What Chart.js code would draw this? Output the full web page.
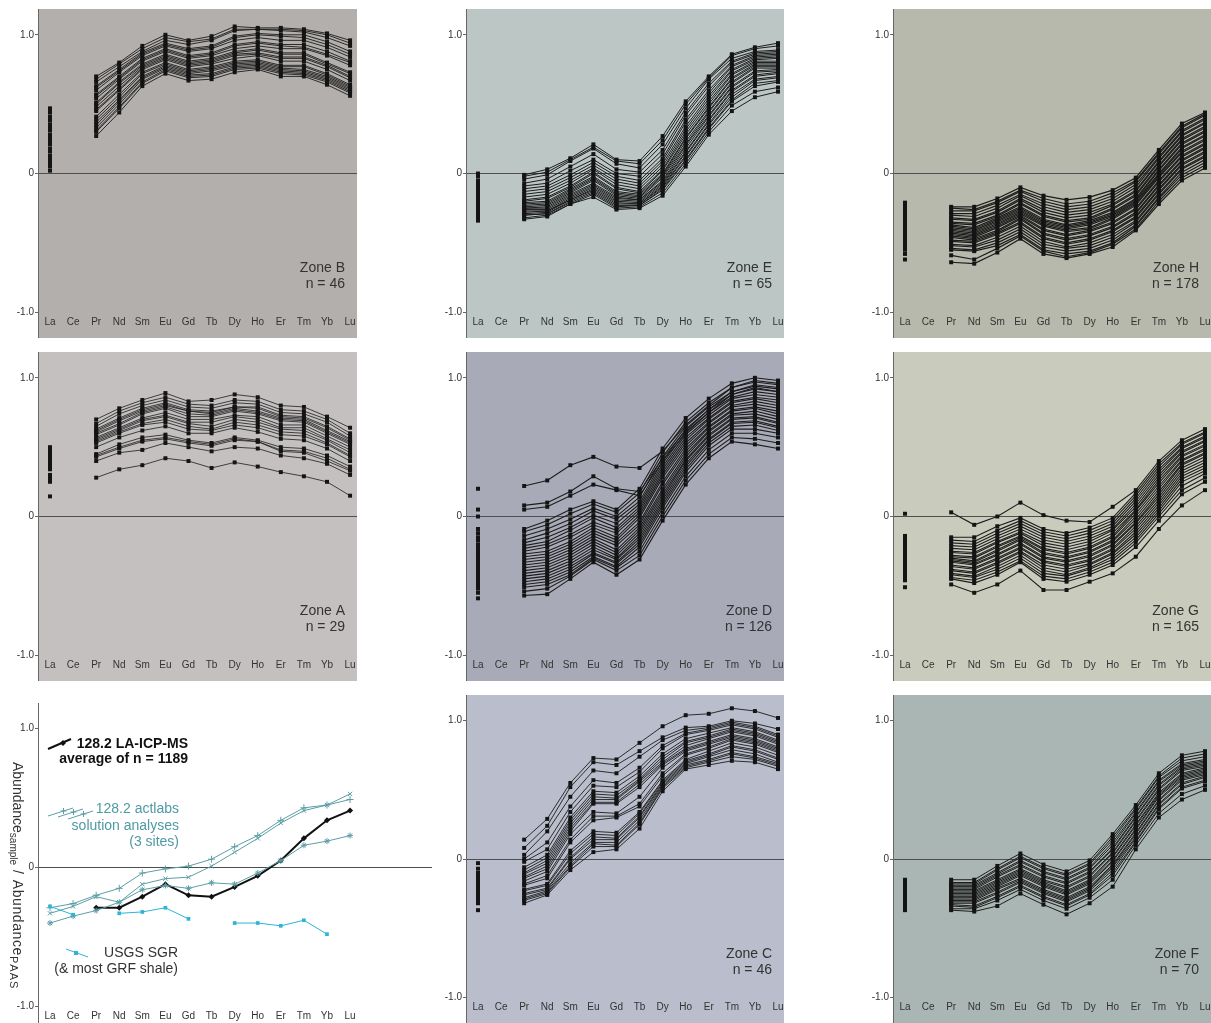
<!DOCTYPE html>
<html><head><meta charset="utf-8">
<script src="https://cdn.jsdelivr.net/npm/chart.js@4.4.1/dist/chart.umd.min.js"></script>
<style>
html,body{margin:0;padding:0;background:#fff;width:1211px;height:1023px;overflow:hidden;position:relative;}
canvas{position:absolute;}
</style></head><body>
<script>
const categories = ['La','Ce','Pr','Nd','Sm','Eu','Gd','Tb','Dy','Ho','Er','Tm','Yb','Lu'];
const yTickValues = [-1, 0, 1];
const yTickLabels = ['-1.0', '0', '1.0'];
const _ = null;

const zoneB = [
[.47,_,.70,.80,.92,1.00,.96,.99,1.06,1.05,1.05,1.04,1.01,.96],
[.45,_,.68,.79,.90,.98,.95,.97,1.04,1.04,1.04,1.03,1.00,.94],
[.44,_,.66,.77,.88,.96,.93,.96,1.03,1.04,1.03,1.02,.98,.92],
[.41,_,.63,.75,.87,.94,.90,.92,.99,1.01,1.00,1.00,.95,.88],
[.40,_,.62,.74,.86,.93,.89,.91,.98,1.00,.99,.98,.93,.86],
[.38,_,.60,.73,.85,.92,.88,.90,.96,.98,.96,.96,.91,.84],
[.35,_,.57,.70,.83,.90,.85,.87,.93,.95,.93,.93,.88,.81],
[.33,_,.56,.69,.82,.89,.84,.86,.92,.94,.92,.91,.86,.80],
[.31,_,.54,.68,.81,.88,.83,.85,.90,.92,.90,.90,.85,.78],
[.28,_,.51,.66,.79,.86,.81,.83,.88,.90,.87,.87,.80,.73],
[.27,_,.50,.65,.78,.85,.80,.82,.87,.89,.86,.86,.79,.72],
[.25,_,.48,.63,.77,.84,.79,.81,.86,.87,.84,.84,.78,.70],
[.23,_,.46,.61,.76,.83,.78,.80,.85,.86,.83,.83,.77,.69],
[.21,_,.45,.60,.75,.82,.77,.79,.83,.85,.81,.81,.75,.67],
[.18,_,.41,.57,.73,.80,.75,.77,.81,.82,.78,.78,.72,.64],
[.16,_,.39,.55,.72,.79,.74,.76,.80,.81,.77,.77,.71,.63],
[.13,_,.37,.53,.70,.78,.73,.75,.79,.80,.76,.75,.70,.62],
[.11,_,.35,.52,.69,.77,.72,.74,.78,.79,.75,.74,.69,.61],
[.09,_,.33,.50,.68,.76,.71,.72,.77,.78,.74,.73,.68,.60],
[.07,_,.31,.48,.66,.75,.70,.71,.76,.77,.73,.72,.67,.59],
[.05,_,.30,.47,.65,.74,.69,.70,.75,.76,.72,.71,.66,.58],
[.02,_,.27,.44,.63,.72,.67,.68,.73,.75,.70,.70,.64,.56]
];
const zoneE = [
[.00,_,-.01,.03,.11,.21,.10,.09,.27,.52,.70,.86,.91,.94],
[-.02,_,-.02,.01,.10,.19,.09,.07,.24,.50,.69,.85,.90,.92],
[-.05,_,-.04,-.01,.09,.18,.07,.04,.21,.47,.68,.83,.88,.89],
[-.07,_,-.07,-.04,.05,.14,.03,.01,.17,.44,.65,.81,.87,.88],
[-.09,_,-.09,-.07,.02,.10,.00,-.02,.14,.42,.63,.80,.86,.87],
[-.11,_,-.11,-.09,-.01,.08,-.02,-.05,.11,.39,.60,.78,.85,.86],
[-.12,_,-.13,-.11,-.03,.06,-.04,-.07,.09,.37,.58,.77,.84,.85],
[-.14,_,-.15,-.13,-.05,.04,-.06,-.09,.07,.34,.56,.75,.83,.84],
[-.15,_,-.17,-.15,-.07,.03,-.08,-.11,.05,.32,.54,.74,.82,.83],
[-.17,_,-.19,-.17,-.09,.01,-.10,-.13,.03,.30,.52,.72,.81,.81],
[-.18,_,-.20,-.18,-.10,.00,-.11,-.14,.02,.28,.50,.71,.80,.80],
[-.19,_,-.21,-.20,-.11,-.02,-.13,-.15,.00,.26,.48,.69,.79,.79],
[-.20,_,-.22,-.21,-.12,-.03,-.14,-.16,-.01,.25,.47,.68,.78,.78],
[-.21,_,-.23,-.22,-.13,-.04,-.15,-.17,-.02,.23,.45,.66,.77,.77],
[-.22,_,-.24,-.23,-.14,-.05,-.16,-.18,-.03,.21,.44,.65,.76,.76],
[-.23,_,-.25,-.24,-.15,-.07,-.17,-.19,-.05,.20,.42,.63,.74,.75],
[-.24,_,-.25,-.25,-.16,-.08,-.18,-.19,-.06,.18,.41,.62,.73,.74],
[-.25,_,-.26,-.26,-.17,-.09,-.19,-.20,-.07,.16,.39,.60,.71,.73],
[-.26,_,-.27,-.27,-.18,-.10,-.20,-.21,-.08,.15,.38,.59,.70,.72],
[-.27,_,-.28,-.27,-.19,-.11,-.21,-.22,-.09,.13,.36,.57,.68,.70],
[-.28,_,-.29,-.28,-.19,-.12,-.22,-.22,-.10,.12,.35,.55,.67,.69],
[-.29,_,-.30,-.29,-.20,-.13,-.23,-.23,-.11,.10,.33,.53,.65,.67],
[-.30,_,-.30,-.29,-.21,-.14,-.24,-.23,-.12,.09,.32,.52,.63,.66],
[-.32,_,-.32,-.30,-.22,-.15,-.25,-.24,-.14,.07,.30,.49,.59,.62],
[-.34,_,-.33,-.31,-.22,-.17,-.26,-.25,-.16,.05,.28,.45,.55,.59]
];
const zoneH = [
[-.21,_,-.24,-.24,-.18,-.10,-.16,-.19,-.17,-.12,-.03,.17,.36,.44],
[-.23,_,-.25,-.26,-.20,-.12,-.18,-.22,-.20,-.14,-.05,.15,.34,.43],
[-.25,_,-.27,-.27,-.21,-.13,-.20,-.24,-.22,-.16,-.06,.14,.33,.42],
[-.27,_,-.29,-.29,-.23,-.15,-.22,-.26,-.24,-.18,-.08,.12,.31,.40],
[-.28,_,-.30,-.31,-.25,-.16,-.24,-.28,-.26,-.20,-.10,.11,.30,.39],
[-.30,_,-.32,-.33,-.27,-.18,-.26,-.30,-.28,-.22,-.12,.09,.28,.37],
[-.31,_,-.33,-.34,-.28,-.19,-.28,-.32,-.30,-.23,-.13,.08,.27,.36],
[-.33,_,-.35,-.36,-.30,-.21,-.30,-.34,-.32,-.25,-.15,.06,.25,.34],
[-.34,_,-.36,-.37,-.31,-.22,-.31,-.35,-.33,-.26,-.16,.05,.24,.33],
[-.36,_,-.37,-.39,-.32,-.24,-.33,-.37,-.34,-.28,-.18,.03,.22,.31],
[-.37,_,-.38,-.40,-.33,-.25,-.34,-.38,-.35,-.29,-.19,.02,.21,.30],
[-.38,_,-.39,-.41,-.34,-.26,-.35,-.39,-.36,-.30,-.20,.00,.19,.28],
[-.39,_,-.40,-.42,-.35,-.27,-.36,-.40,-.37,-.31,-.21,-.01,.18,.27],
[-.40,_,-.41,-.43,-.36,-.28,-.37,-.41,-.39,-.32,-.22,-.02,.16,.25],
[-.41,_,-.42,-.44,-.37,-.29,-.38,-.42,-.40,-.33,-.23,-.03,.15,.24],
[-.42,_,-.43,-.45,-.38,-.30,-.40,-.44,-.41,-.35,-.25,-.05,.13,.22],
[-.43,_,-.44,-.46,-.39,-.31,-.41,-.45,-.42,-.36,-.26,-.06,.12,.21],
[-.44,_,-.45,-.47,-.41,-.32,-.43,-.47,-.44,-.38,-.28,-.08,.10,.19],
[-.45,_,-.46,-.48,-.42,-.33,-.44,-.48,-.45,-.39,-.29,-.09,.09,.18],
[-.47,_,-.48,-.49,-.43,-.35,-.46,-.50,-.47,-.41,-.31,-.11,.07,.16],
[-.48,_,-.49,-.50,-.44,-.36,-.47,-.51,-.48,-.42,-.32,-.12,.06,.15],
[-.50,_,-.51,-.52,-.46,-.38,-.49,-.53,-.50,-.44,-.34,-.14,.04,.13],
[-.51,_,-.52,-.53,-.48,-.40,-.51,-.54,-.52,-.46,-.35,-.15,.03,.12],
[-.53,_,-.54,-.55,-.50,-.42,-.53,-.56,-.54,-.48,-.37,-.17,.01,.10],
[-.55,_,-.55,-.56,-.52,-.44,-.55,-.58,-.56,-.50,-.38,-.18,-.01,.08],
[-.58,_,-.59,-.62,-.54,-.45,-.56,-.60,-.57,-.51,-.40,-.20,-.03,.06],
[-.62,_,-.64,-.65,-.57,-.47,-.58,-.61,-.58,-.53,-.41,-.22,-.05,.04]
];
const zoneA = [
[.50,_,.70,.78,.84,.89,.83,.84,.88,.86,.80,.79,.72,.64],
[.48,_,.67,.76,.82,.86,.81,.80,.84,.83,.77,.76,.70,.60],
[.47,_,.65,.74,.80,.84,.79,.78,.82,.81,.75,.74,.68,.58],
[.45,_,.63,.71,.78,.82,.77,.76,.79,.79,.73,.72,.65,.56],
[.44,_,.62,.70,.77,.81,.76,.75,.79,.78,.72,.71,.64,.55],
[.43,_,.61,.69,.76,.80,.76,.74,.78,.76,.71,.70,.62,.54],
[.42,_,.60,.67,.75,.79,.74,.73,.77,.75,.70,.69,.61,.53],
[.41,_,.59,.66,.74,.78,.72,.72,.76,.74,.69,.68,.60,.52],
[.40,_,.57,.64,.71,.75,.70,.70,.73,.72,.66,.66,.58,.50],
[.39,_,.56,.63,.70,.73,.68,.68,.72,.70,.64,.64,.56,.48],
[.38,_,.55,.62,.69,.72,.67,.65,.70,.68,.63,.62,.55,.46],
[.37,_,.54,.61,.67,.70,.65,.63,.68,.66,.61,.60,.53,.44],
[.36,_,.53,.60,.66,.68,.63,.62,.66,.64,.59,.58,.52,.43],
[.34,_,.50,.57,.62,.65,.60,.60,.64,.61,.56,.55,.49,.40],
[.30,_,.45,.52,.57,.59,.55,.53,.57,.55,.50,.49,.44,.36],
[.28,_,.44,.50,.55,.57,.54,.52,.56,.54,.48,.47,.42,.34],
[.27,_,.43,.49,.54,.56,.53,.51,.55,.54,.47,.46,.40,.33],
[.25,_,.40,.46,.48,.53,.50,.47,.50,.49,.44,.42,.38,.30],
[.145,_,.28,.34,.37,.42,.40,.35,.39,.36,.32,.29,.25,.15]
];
const zoneD = [
[.20,_,.22,.26,.37,.43,.36,.35,.47,.66,.80,.93,.98,.96],
[.05,_,.08,.10,.18,.29,.20,.18,.42,.62,.77,.90,.95,.93],
[.00,_,.05,.07,.15,.23,.19,.15,.40,.60,.75,.88,.93,.90],
[-.09,_,-.09,-.03,.05,.11,.05,.20,.49,.71,.85,.96,1.00,.98],
[-.12,_,-.11,-.06,.02,.09,.03,.17,.46,.68,.82,.93,.97,.95],
[-.15,_,-.14,-.09,-.02,.06,.00,.14,.43,.65,.79,.90,.94,.92],
[-.17,_,-.17,-.12,-.05,.04,-.02,.11,.40,.63,.77,.88,.92,.90],
[-.20,_,-.19,-.15,-.08,.01,-.05,.09,.38,.61,.75,.86,.90,.88],
[-.22,_,-.21,-.18,-.10,-.01,-.08,.07,.36,.59,.73,.85,.88,.86],
[-.24,_,-.23,-.20,-.13,-.04,-.10,.05,.34,.57,.71,.83,.86,.84],
[-.26,_,-.25,-.22,-.15,-.06,-.12,.03,.32,.55,.70,.82,.85,.82],
[-.28,_,-.27,-.25,-.18,-.08,-.15,.01,.30,.53,.68,.80,.83,.80],
[-.30,_,-.29,-.27,-.20,-.10,-.17,-.01,.28,.51,.67,.79,.81,.78],
[-.32,_,-.31,-.29,-.22,-.12,-.19,-.04,.25,.49,.65,.77,.79,.76],
[-.34,_,-.33,-.31,-.24,-.14,-.21,-.06,.23,.47,.64,.76,.78,.74],
[-.36,_,-.35,-.33,-.26,-.16,-.24,-.08,.20,.45,.62,.74,.76,.72],
[-.38,_,-.37,-.35,-.28,-.18,-.26,-.10,.18,.43,.61,.73,.74,.70],
[-.40,_,-.39,-.37,-.30,-.20,-.28,-.12,.16,.41,.59,.71,.72,.68],
[-.42,_,-.41,-.39,-.32,-.22,-.30,-.14,.14,.40,.58,.70,.71,.67],
[-.44,_,-.43,-.41,-.34,-.24,-.31,-.16,.12,.38,.56,.68,.69,.65],
[-.46,_,-.45,-.43,-.36,-.26,-.33,-.18,.10,.36,.55,.67,.68,.64],
[-.48,_,-.47,-.45,-.38,-.27,-.34,-.20,.08,.34,.53,.65,.66,.62],
[-.50,_,-.49,-.47,-.40,-.29,-.36,-.22,.06,.32,.51,.63,.63,.60],
[-.52,_,-.51,-.49,-.42,-.30,-.37,-.25,.03,.29,.48,.60,.60,.57],
[-.55,_,-.54,-.52,-.43,-.31,-.39,-.28,.00,.26,.45,.57,.56,.53],
[-.59,_,-.57,-.56,-.45,-.33,-.42,-.31,-.03,.23,.42,.54,.52,.49]
];
const zoneG = [
[.02,_,.03,-.06,.00,.10,.01,-.03,-.04,.07,.19,.40,.55,.63],
[-.14,_,-.15,-.15,-.07,-.01,-.09,-.12,-.08,-.01,.17,.38,.53,.61],
[-.16,_,-.17,-.18,-.10,-.03,-.11,-.14,-.10,-.03,.15,.36,.52,.60],
[-.18,_,-.19,-.20,-.12,-.05,-.13,-.16,-.12,-.05,.13,.34,.50,.58],
[-.20,_,-.21,-.22,-.14,-.07,-.15,-.18,-.14,-.07,.11,.32,.49,.57],
[-.22,_,-.23,-.24,-.16,-.09,-.17,-.20,-.16,-.09,.09,.30,.47,.55],
[-.24,_,-.25,-.26,-.18,-.11,-.19,-.22,-.18,-.10,.07,.28,.46,.54],
[-.25,_,-.26,-.27,-.19,-.12,-.21,-.24,-.20,-.12,.05,.26,.44,.52],
[-.27,_,-.28,-.29,-.21,-.14,-.23,-.26,-.22,-.14,.04,.24,.43,.51],
[-.28,_,-.29,-.30,-.22,-.15,-.24,-.27,-.23,-.15,.02,.22,.41,.49],
[-.30,_,-.30,-.32,-.24,-.16,-.26,-.29,-.25,-.17,.00,.20,.40,.48],
[-.31,_,-.31,-.33,-.25,-.17,-.27,-.30,-.26,-.18,-.02,.18,.38,.46],
[-.33,_,-.32,-.34,-.27,-.19,-.29,-.32,-.28,-.20,-.04,.16,.37,.45],
[-.34,_,-.33,-.35,-.28,-.20,-.30,-.33,-.29,-.21,-.05,.14,.35,.43],
[-.36,_,-.35,-.37,-.30,-.22,-.32,-.35,-.31,-.23,-.07,.12,.33,.41],
[-.37,_,-.36,-.38,-.31,-.23,-.33,-.36,-.32,-.24,-.09,.10,.31,.39],
[-.39,_,-.38,-.40,-.33,-.25,-.35,-.38,-.34,-.26,-.11,.08,.29,.37],
[-.40,_,-.39,-.41,-.34,-.26,-.37,-.40,-.35,-.27,-.13,.06,.27,.35],
[-.42,_,-.41,-.43,-.36,-.28,-.39,-.42,-.37,-.29,-.15,.04,.25,.33],
[-.43,_,-.42,-.44,-.38,-.30,-.41,-.43,-.38,-.31,-.17,.02,.22,.31],
[-.45,_,-.44,-.46,-.40,-.32,-.43,-.45,-.40,-.33,-.19,.00,.19,.28],
[-.46,_,-.45,-.48,-.42,-.33,-.45,-.47,-.42,-.35,-.22,-.03,.16,.25],
[-.51,_,-.49,-.55,-.49,-.39,-.53,-.53,-.47,-.41,-.29,-.09,.08,.19]
];
const zoneC = [
[-.03,_,.14,.29,.55,.73,.72,.84,.96,1.04,1.05,1.09,1.07,1.02],
[-.07,_,.08,.24,.52,.70,.68,.78,.88,.95,.96,1.00,.98,.94],
[-.10,_,.03,.20,.45,.64,.62,.74,.86,.93,.95,.99,.96,.90],
[-.11,_,.00,.12,.38,.57,.55,.66,.82,.91,.94,.98,.95,.89],
[-.12,_,-.02,.07,.34,.53,.52,.63,.80,.90,.93,.97,.94,.88],
[-.14,_,-.06,.03,.30,.49,.48,.60,.76,.87,.91,.95,.92,.86],
[-.15,_,-.08,.01,.28,.47,.46,.58,.74,.85,.89,.94,.91,.85],
[-.16,_,-.10,-.01,.26,.45,.44,.57,.72,.84,.88,.93,.90,.84],
[-.17,_,-.11,-.03,.24,.43,.43,.56,.70,.82,.87,.92,.89,.83],
[-.18,_,-.13,-.05,.22,.41,.41,.54,.69,.80,.85,.90,.87,.81],
[-.19,_,-.14,-.07,.20,.40,.40,.52,.68,.79,.84,.89,.86,.80],
[-.20,_,-.16,-.09,.18,.34,.33,.45,.66,.78,.83,.88,.85,.79],
[-.21,_,-.18,-.12,.14,.31,.31,.40,.62,.76,.81,.87,.84,.78],
[-.22,_,-.19,-.14,.12,.28,.30,.38,.60,.75,.80,.86,.83,.77],
[-.24,_,-.22,-.18,.06,.20,.19,.34,.57,.72,.78,.84,.81,.75],
[-.25,_,-.23,-.19,.04,.18,.17,.33,.56,.71,.76,.82,.79,.73],
[-.26,_,-.25,-.21,.01,.16,.15,.31,.55,.70,.75,.81,.78,.72],
[-.27,_,-.26,-.22,.00,.14,.14,.30,.54,.69,.74,.79,.76,.70],
[-.29,_,-.28,-.23,-.03,.12,.12,.28,.53,.68,.72,.77,.74,.69],
[-.30,_,-.29,-.24,-.05,.11,.10,.26,.52,.67,.71,.76,.73,.68],
[-.32,_,-.30,-.25,-.06,.09,.09,.25,.51,.66,.70,.74,.72,.67],
[-.37,_,-.32,-.26,-.08,.05,.07,.22,.49,.65,.68,.71,.70,.65]
];
const zoneF = [
[-.15,_,-.15,-.15,-.05,.04,-.04,-.09,-.01,.18,.39,.62,.75,.78],
[-.17,_,-.17,-.17,-.07,.02,-.06,-.11,-.03,.16,.37,.60,.73,.76],
[-.18,_,-.18,-.18,-.08,.01,-.07,-.12,-.04,.14,.36,.59,.71,.74],
[-.19,_,-.19,-.19,-.10,-.01,-.09,-.14,-.06,.12,.34,.57,.69,.72],
[-.20,_,-.20,-.20,-.11,-.02,-.10,-.15,-.07,.10,.33,.56,.68,.71],
[-.21,_,-.21,-.21,-.12,-.04,-.12,-.17,-.09,.08,.31,.54,.67,.70],
[-.22,_,-.22,-.22,-.13,-.05,-.13,-.18,-.10,.07,.30,.53,.66,.69],
[-.23,_,-.23,-.23,-.15,-.07,-.15,-.20,-.12,.05,.28,.51,.65,.68],
[-.24,_,-.24,-.24,-.16,-.08,-.16,-.21,-.13,.04,.27,.50,.64,.67],
[-.25,_,-.25,-.25,-.17,-.09,-.17,-.23,-.15,.02,.25,.48,.62,.66],
[-.26,_,-.26,-.26,-.18,-.10,-.18,-.24,-.16,.01,.24,.47,.61,.65],
[-.27,_,-.27,-.27,-.19,-.11,-.19,-.25,-.17,-.01,.22,.46,.60,.64],
[-.28,_,-.28,-.28,-.20,-.12,-.20,-.26,-.18,-.02,.21,.45,.59,.63],
[-.29,_,-.29,-.29,-.21,-.14,-.22,-.28,-.20,-.04,.19,.43,.58,.62],
[-.30,_,-.30,-.30,-.22,-.15,-.23,-.29,-.21,-.05,.18,.42,.57,.61],
[-.31,_,-.31,-.31,-.24,-.16,-.24,-.30,-.22,-.06,.16,.40,.55,.60],
[-.32,_,-.32,-.32,-.25,-.17,-.25,-.31,-.23,-.08,.15,.39,.54,.59],
[-.33,_,-.33,-.34,-.27,-.19,-.27,-.33,-.25,-.10,.13,.37,.52,.57],
[-.34,_,-.34,-.35,-.28,-.20,-.28,-.34,-.26,-.12,.12,.36,.51,.56],
[-.35,_,-.36,-.36,-.30,-.22,-.30,-.36,-.28,-.15,.10,.33,.47,.53],
[-.37,_,-.37,-.38,-.34,-.25,-.33,-.40,-.32,-.20,.07,.30,.43,.50]
];

const avgLaIcpMs   = [_,_,-.29,-.29,-.21,-.12,-.20,-.21,-.14,-.06,.05,.21,.34,.41];
const actlabsSite1 = [-.29,-.26,-.20,-.15,-.04,-.01,.01,.06,.15,.23,.34,.43,.45,.49];
const actlabsSite2 = [-.33,-.28,-.21,-.25,-.12,-.08,-.07,.01,.11,.21,.32,.41,.45,.53];
const actlabsSite3 = [-.40,-.35,-.31,-.25,-.16,-.13,-.15,-.11,-.12,-.04,.05,.16,.19,.23];
const usgsSGR      = [-.28,-.34,_,-.33,-.32,-.29,-.37,_,-.40,-.40,-.42,-.38,-.48,_];

const FONT = '"Liberation Sans", Arial, Helvetica, sans-serif';
const TEAL = '#5c9ea6', TEAL_TXT = '#4f9aa3', CYAN = '#2db4d6';

function makeCanvas(left, top, w, h) {
  const c = document.createElement('canvas');
  c.width = w; c.height = h;
  c.style.left = left + 'px'; c.style.top = top + 'px';
  c.style.width = w + 'px'; c.style.height = h + 'px';
  document.body.appendChild(c);
  return c;
}

const bgPlugin = {
  id: 'bg',
  beforeDraw(chart, args, opts) {
    if (!opts.color) return;
    const a = chart.chartArea, ctx = chart.ctx;
    ctx.save(); ctx.fillStyle = opts.color;
    ctx.fillRect(a.left, a.top, a.right - a.left, a.bottom - a.top);
    ctx.restore();
  }
};
const zoneLabelPlugin = {
  id: 'zoneLabel',
  afterDraw(chart, args, opts) {
    if (!opts.zone) return;
    const ctx = chart.ctx, a = chart.chartArea;
    const y0 = chart.scales.y.getPixelForValue(0);
    ctx.save();
    ctx.fillStyle = '#333'; ctx.font = '14px ' + FONT;
    ctx.textAlign = 'right'; ctx.textBaseline = 'middle';
    ctx.fillText(opts.zone, a.right - 12, y0 + 95);
    ctx.fillText(opts.n, a.right - 12, y0 + 111);
    ctx.restore();
  }
};

function scalesFor(yMin, yMax, xMax) {
  return {
    x: {
      type: 'linear', min: -0.52, max: xMax, position: { y: -1 },
      grid: { display: false, drawTicks: false }, border: { display: false },
      ticks: { autoSkip: false, maxRotation: 0, minRotation: 0, padding: 4, color: '#333',
               font: { family: FONT, size: 10 }, callback: (v, i) => categories[i] },
      afterBuildTicks: s => { s.ticks = categories.map((c, i) => ({ value: i })); },
      afterFit: s => { s.paddingLeft = 0; s.paddingRight = 0; }
    },
    y: {
      type: 'linear', min: yMin, max: yMax, position: 'left',
      grid: { color: c => (c.tick && c.tick.value === 0) ? '#4e4e4e' : 'rgba(0,0,0,0)',
              tickColor: '#666', tickLength: 3, drawOnChartArea: true, lineWidth: 1 },
      border: { display: true, color: '#666', width: 1 },
      ticks: { padding: 1, color: '#333', font: { family: FONT, size: 10 },
               callback: (v, i) => yTickLabels[i] },
      afterBuildTicks: s => { s.ticks = yTickValues.map(v => ({ value: v })); },
      afterFit: s => { s.width = 38; s.paddingTop = 0; s.paddingBottom = 0; }
    }
  };
}

const panels = [
  { zone: 'Zone B', n: 'n = 46',  data: zoneB, bg: '#b3afac', left: 0,   top: 9,   w: 357, h: 329, xMax: 13.30, lw: 0.9 },
  { zone: 'Zone E', n: 'n = 65',  data: zoneE, bg: '#bbc6c5', left: 428, top: 9,   w: 356, h: 329, xMax: 13.26, lw: 1.0 },
  { zone: 'Zone H', n: 'n = 178', data: zoneH, bg: '#b6b9ab', left: 855, top: 9,   w: 356, h: 329, xMax: 13.26, lw: 1.2 },
  { zone: 'Zone A', n: 'n = 29',  data: zoneA, bg: '#c4c0c0', left: 0,   top: 352, w: 357, h: 329, xMax: 13.30, lw: 0.8 },
  { zone: 'Zone D', n: 'n = 126', data: zoneD, bg: '#a8aab7', left: 428, top: 352, w: 356, h: 329, xMax: 13.26, lw: 1.1 },
  { zone: 'Zone G', n: 'n = 165', data: zoneG, bg: '#c9ccbc', left: 855, top: 352, w: 356, h: 329, xMax: 13.26, lw: 1.1 },
  { zone: 'Zone C', n: 'n = 46',  data: zoneC, bg: '#b9bdcc', left: 428, top: 695, w: 356, h: 328, xMax: 13.26, lw: 0.9 },
  { zone: 'Zone F', n: 'n = 70',  data: zoneF, bg: '#aab6b3', left: 855, top: 695, w: 356, h: 328, xMax: 13.26, lw: 1.0 }
];

const toXY = row => row.map((v, i) => ({ x: i, y: v }));

panels.forEach(p => {
  const cv = makeCanvas(p.left, p.top, p.w, p.h);
  new Chart(cv, {
    type: 'line',
    data: {
      datasets: p.data.map(row => ({
        data: toXY(row), borderColor: '#1c1c1c', borderWidth: p.lw,
        pointStyle: 'rect', pointRadius: 2.8, pointBackgroundColor: '#141414',
        pointBorderWidth: 0, spanGaps: false, tension: 0
      }))
    },
    options: {
      responsive: false, animation: false, devicePixelRatio: 1,
      layout: { padding: 0, autoPadding: false },
      events: [],
      plugins: { legend: { display: false }, tooltip: { enabled: false },
                 bg: { color: p.bg }, zoneLabel: { zone: p.zone, n: p.n } },
      scales: scalesFor(-1.186, 1.186, p.xMax)
    },
    plugins: [bgPlugin, zoneLabelPlugin]
  });
});

// summary panel (bottom-left)
const summaryPlugin = {
  id: 'summary',
  afterDraw(chart) {
    const ctx = chart.ctx;
    ctx.save();
    ctx.strokeStyle = '#111'; ctx.lineWidth = 2;
    ctx.beginPath(); ctx.moveTo(48, 46); ctx.lineTo(71, 36); ctx.stroke();
    ctx.fillStyle = '#111';
    ctx.beginPath(); ctx.moveTo(63, 37); ctx.lineTo(66, 40); ctx.lineTo(63, 43); ctx.lineTo(60, 40); ctx.closePath(); ctx.fill();
    ctx.font = 'bold 14px ' + FONT; ctx.textAlign = 'right'; ctx.textBaseline = 'middle';
    ctx.fillText('128.2 LA-ICP-MS', 188, 41);
    ctx.fillText('average of n = 1189', 188, 56);
    ctx.strokeStyle = TEAL; ctx.lineWidth = 1;
    [[48,113,73,105],[58,114,83,106],[68,116,93,108]].forEach(s => {
      ctx.beginPath(); ctx.moveTo(s[0], s[1]); ctx.lineTo(s[2], s[3]); ctx.stroke();
      const mx = (s[0] + s[2]) / 2 + 3, my = (s[1] + s[3]) / 2 - 1;
      ctx.beginPath(); ctx.moveTo(mx - 3, my); ctx.lineTo(mx + 3, my); ctx.moveTo(mx, my - 3); ctx.lineTo(mx, my + 3); ctx.stroke();
    });
    ctx.fillStyle = TEAL_TXT; ctx.font = '14px ' + FONT;
    ctx.fillText('128.2 actlabs', 179, 106);
    ctx.fillText('solution analyses', 179, 123);
    ctx.fillText('(3 sites)', 179, 139);
    ctx.strokeStyle = CYAN; ctx.lineWidth = 1;
    ctx.beginPath(); ctx.moveTo(66, 246); ctx.lineTo(88, 254); ctx.stroke();
    ctx.fillStyle = CYAN; ctx.fillRect(74, 248, 4, 4);
    ctx.fillStyle = '#333';
    ctx.fillText('USGS SGR', 178, 250);
    ctx.fillText('(& most GRF shale)', 178, 266);
    // rotated axis title
    ctx.translate(12.5, 59); ctx.rotate(Math.PI / 2);
    ctx.textAlign = 'left'; ctx.textBaseline = 'alphabetic'; ctx.fillStyle = '#333';
    let x = 0;
    const part = (t, size, dy, sp) => {
      ctx.font = size + 'px ' + FONT;
      for (const ch of t) { ctx.fillText(ch, x, dy); x += ctx.measureText(ch).width + (sp || 0); }
    };
    part('Abundance', 14, 0); part('sample', 10, 3); part(' / ', 14, 0, 1); part('Abundance', 14, 0, 0.6); part('PAAS', 11, 3, 1);
    ctx.restore();
  }
};

const sumCanvas = makeCanvas(0, 703, 432, 320);
new Chart(sumCanvas, {
  type: 'line',
  data: {
    datasets: [
      { data: toXY(usgsSGR), borderColor: CYAN, borderWidth: 1, pointStyle: 'rect', pointRadius: 2.6,
        pointBackgroundColor: CYAN, pointBorderWidth: 0, spanGaps: false },
      { data: toXY(actlabsSite1), borderColor: TEAL, borderWidth: 1, pointStyle: 'cross', pointRadius: 3.5,
        pointBorderColor: TEAL, pointBorderWidth: 1 },
      { data: toXY(actlabsSite2), borderColor: TEAL, borderWidth: 1, pointStyle: 'crossRot', pointRadius: 3,
        pointBorderColor: TEAL, pointBorderWidth: 1 },
      { data: toXY(actlabsSite3), borderColor: TEAL, borderWidth: 1, pointStyle: 'star', pointRadius: 3,
        pointBorderColor: TEAL, pointBorderWidth: 1 },
      { data: toXY(avgLaIcpMs), borderColor: '#111', borderWidth: 2, pointStyle: 'rectRot', pointRadius: 3,
        pointBackgroundColor: '#111', pointBorderWidth: 0, spanGaps: false }
    ]
  },
  options: {
    responsive: false, animation: false, devicePixelRatio: 1,
    layout: { padding: 0, autoPadding: false }, events: [],
    plugins: { legend: { display: false }, tooltip: { enabled: false } },
    scales: scalesFor(-1.12, 1.185, 16.55)
  },
  plugins: [summaryPlugin]
});
</script>
</body></html>
